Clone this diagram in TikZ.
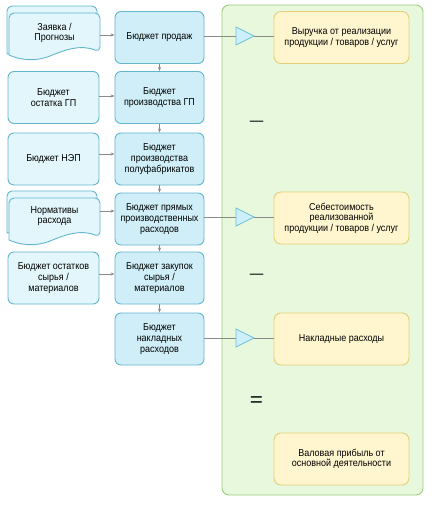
\documentclass[tikz,border=0pt]{standalone}
\usepackage{fontspec}
\setmainfont[FakeStretch=0.9]{Liberation Sans}
\usetikzlibrary{arrows.meta}
\definecolor{lbfill}{HTML}{E2F6FB}
\definecolor{mbfill}{HTML}{CFEEF8}
\definecolor{bborder}{HTML}{62B6CE}
\definecolor{yfill}{HTML}{FFF6CF}
\definecolor{yborder}{HTML}{E6CF78}
\definecolor{gfill}{HTML}{E7F8DC}
\definecolor{gborder}{HTML}{9DCB7F}
\definecolor{conn}{HTML}{8A8A8A}
\definecolor{trifill}{HTML}{CDEFFA}
\definecolor{triborder}{HTML}{6CC0DA}
\tikzset{
  boxtext/.style={font=\fontsize{10}{10.6}\selectfont, align=center, inner sep=0pt},
  leftbox/.style={boxtext, draw=bborder, fill=lbfill, line width=0.9pt, rounded corners=6pt, minimum width=91pt, minimum height=52pt},
  midbox/.style={boxtext, draw=bborder, fill=mbfill, line width=0.9pt, rounded corners=6pt, minimum width=89pt, minimum height=52pt},
  ybox/.style={boxtext, draw=yborder, fill=yfill, line width=0.9pt, rounded corners=7pt, minimum width=135pt, minimum height=52pt},
  docshape/.style={draw=bborder, fill=lbfill, line width=0.9pt},
  conarrow/.style={draw=conn, line width=0.6pt, -{Stealth[length=4pt,width=3pt]}},
  conline/.style={draw=conn, line width=0.6pt},
  tri/.style={draw=triborder, fill=trifill, line width=0.8pt},
  opsign/.style={inner sep=0pt, font=\fontsize{15}{15}\selectfont}
}
\begin{document}
\begin{tikzpicture}[x=1pt,y=-1pt]
\useasboundingbox (0,0) rectangle (431,505);
% green container
\node[draw=gborder, fill=gfill, line width=0.9pt, rounded corners=7pt, minimum width=201pt, minimum height=490pt, inner sep=0pt] (cont) at (322.5,250) {};
% multi-document 1
\path[docshape, rounded corners=5pt] (7,54) -- (7,6) -- (97,6) -- (97,40) -- (7,54);
\path[docshape] (9,55) [rounded corners=5pt] -- (9,13) -- (100,13) -- (100,52) [sharp corners]
  .. controls (80,44) and (65,50) .. (50,56) .. controls (35,62) and (20,60) .. (9,55) -- cycle;
\node[boxtext] (zayavka) at (54.5,33) {Заявка /\\Прогнозы};
% multi-document 2
\path[docshape, rounded corners=5pt] (7,233) -- (7,191) -- (97,191) -- (97,220) -- (7,233);
\path[docshape] (9,240) [rounded corners=5pt] -- (9,198) -- (100,198) -- (100,237) [sharp corners]
  .. controls (80,229) and (65,235) .. (50,241) .. controls (35,247) and (20,245) .. (9,240) -- cycle;
\node[boxtext] (normy) at (54.5,216) {Нормативы\\расхода};
% left boxes
\node[leftbox] (ostGP) at (53.5,97.5) {Бюджет\\остатка ГП};
\node[leftbox] (nep) at (53.5,159) {Бюджет НЭП};
\node[leftbox] (ostsyr) at (53.5,278) {Бюджет остатков\\сырья /\\материалов};
% middle boxes
\node[midbox] (prodazh) at (159.5,37.5) {Бюджет продаж};
\node[midbox] (proizvGP) at (159.5,97.5) {Бюджет\\производства ГП};
\node[midbox] (polufab) at (159.5,159) {Бюджет\\производства\\полуфабрикатов};
\node[midbox] (pryam) at (159.5,219) {Бюджет прямых\\производственных\\расходов};
\node[midbox] (zakup) at (159.5,278) {Бюджет закупок\\сырья /\\материалов};
\node[midbox] (naklad) at (159.5,339) {Бюджет\\накладных\\расходов};
% yellow boxes
\node[ybox] (vyruchka) at (341.5,37.5) {Выручка от реализации\\продукции / товаров / услуг};
\node[ybox] (sebest) at (341.5,218) {Себестоимость\\реализованной\\продукции / товаров / услуг};
\node[ybox] (naklr) at (341.5,339) {Накладные расходы};
\node[ybox] (valov) at (341.5,459) {Валовая прибыль от\\основной деятельности};
% operators
\node[opsign] (minus1) at (256.5,123) {—};
\node[opsign] (minus2) at (256.5,276) {—};
\node[opsign, font=\fontsize{20}{20}\selectfont, xscale=1.25] (equals) at (256.5,402) {=};
% horizontal arrows
\draw[conarrow] (100,35) -- (prodazh.west |- 0,35);
\draw[conarrow] (ostGP.east |- 0,96) -- (proizvGP.west |- 0,96);
\draw[conarrow] (nep.east |- 0,154) -- (polufab.west |- 0,154);
\draw[conarrow] (100,211) -- (pryam.west |- 0,211);
\draw[conarrow] (ostsyr.east |- 0,274) -- (zakup.west |- 0,274);
% vertical arrows
\draw[conarrow] (prodazh.south) -- (proizvGP.north);
\draw[conarrow] (proizvGP.south) -- (polufab.north);
\draw[conarrow] (polufab.south) -- (pryam.north);
\draw[conarrow] (pryam.south) -- (zakup.north);
\draw[conarrow] (zakup.south) -- (naklad.north);
% triangles and lines to yellow boxes
\coordinate (t1) at (236,36);
\coordinate (t2) at (236,217);
\coordinate (t3) at (236,338);
\foreach \t/\src/\dst in {t1/prodazh/vyruchka, t2/pryam/sebest, t3/naklad/naklr}{
  \draw[conline] (\src.east |- \t) -- (\t);
  \path[tri] (\t) ++(0,-9) -- ++(18,9) -- ++(-18,9) -- cycle;
  \draw[conline] (\t) ++(18,0) -- (\dst.west |- \t);
}
\end{tikzpicture}
\end{document}
